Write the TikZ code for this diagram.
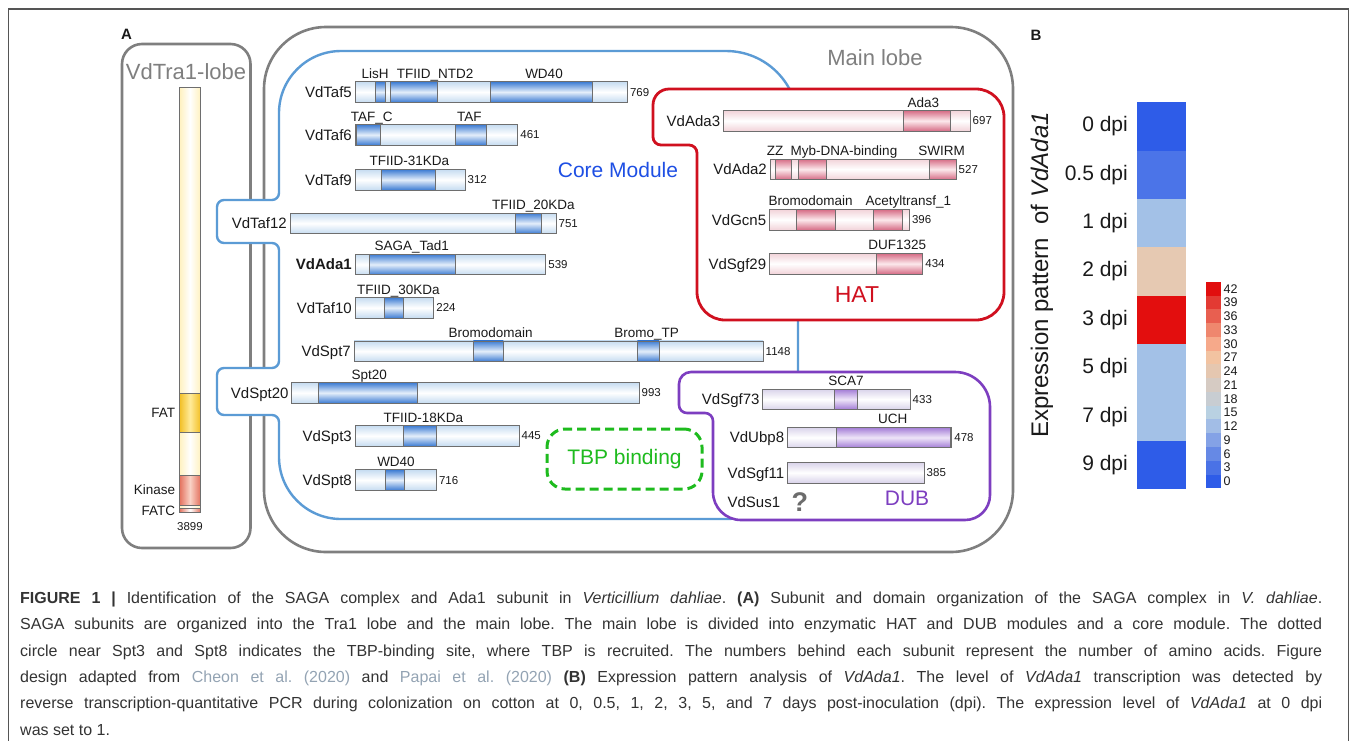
\documentclass[tikz,border=0pt]{standalone}
\usepackage{fontspec}
\setmainfont{Liberation Sans}
\usetikzlibrary{positioning}
\frenchspacing
\definecolor{ink}{HTML}{1A1A1A}
\definecolor{lobegray}{HTML}{7F7F7F}
\definecolor{corecol}{HTML}{5B9BD5}
\definecolor{coretext}{HTML}{1E4FE4}
\definecolor{hatcol}{HTML}{D0101F}
\definecolor{dubcol}{HTML}{7D3EC0}
\definecolor{tbpcol}{HTML}{1EBB1E}
\definecolor{bargray}{HTML}{6E6E6E}
\definecolor{coreL}{HTML}{C6DCF1}
\definecolor{coreD}{HTML}{3D7CD3}
\definecolor{coreM}{HTML}{E4EEFA}
\definecolor{hatL}{HTML}{F2D3D9}
\definecolor{hatD}{HTML}{D66C86}
\definecolor{hatM}{HTML}{FCE9EC}
\definecolor{dubL}{HTML}{D9D3EA}
\definecolor{dubD}{HTML}{A27BD6}
\definecolor{dubM}{HTML}{EEE5F8}
\definecolor{traL}{HTML}{FFF1BE}
\definecolor{fatD}{HTML}{F2BE22}
\definecolor{fatM}{HTML}{FFEB9A}
\definecolor{kinD}{HTML}{E3705C}
\definecolor{kinM}{HTML}{F9D2C6}
\definecolor{captext}{HTML}{333333}
\definecolor{citegray}{HTML}{93A3B3}
\definecolor{framegray}{HTML}{555555}
% heat map and colour bar
\definecolor{hmA}{HTML}{2E5CE8}
\definecolor{hmB}{HTML}{4B74E8}
\definecolor{hmC}{HTML}{A3C1E7}
\definecolor{hmD}{HTML}{E6C9B2}
\definecolor{hmE}{HTML}{E30E0E}
\definecolor{cb0}{HTML}{2E5CE8}
\definecolor{cb1}{HTML}{4A72E6}
\definecolor{cb2}{HTML}{6689E5}
\definecolor{cb3}{HTML}{84A2E6}
\definecolor{cb4}{HTML}{A2BDE6}
\definecolor{cb5}{HTML}{B9D1E2}
\definecolor{cb6}{HTML}{C8CDD2}
\definecolor{cb7}{HTML}{D6CBC3}
\definecolor{cb8}{HTML}{E5C7B0}
\definecolor{cb9}{HTML}{F2C3A1}
\definecolor{cb10}{HTML}{F6A98A}
\definecolor{cb11}{HTML}{EF876E}
\definecolor{cb12}{HTML}{E85F50}
\definecolor{cb13}{HTML}{E33A33}
\definecolor{cb14}{HTML}{E10E0E}
\tikzstyle{lobe}=[draw=lobegray, line width=2.6pt, fill=white]
\tikzstyle{lobetitle}=[font=\fontsize{22}{26}\selectfont, text=lobegray, inner sep=0pt]
\tikzstyle{coremod}=[draw=corecol, line width=2.4pt, fill=white]
\tikzstyle{hatmod}=[draw=hatcol, line width=2.8pt, fill=white]
\tikzstyle{dubmod}=[draw=dubcol, line width=2.6pt, fill=white]
\tikzstyle{modtitle}=[font=\fontsize{21}{25}\selectfont, inner sep=0pt]
\tikzstyle{tbpbox}=[draw=tbpcol, line width=3pt, dash pattern=on 9pt off 5pt, rounded corners=18pt,
  minimum width=155pt, minimum height=60pt, text=tbpcol, font=\fontsize{21}{25}\selectfont]
\tikzstyle{bar}=[draw=bargray, line width=0.9pt, minimum height=20.5pt, inner sep=0pt, outer sep=0pt, anchor=west]
\tikzstyle{corebar}=[bar, top color=coreL, bottom color=coreL, middle color=white]
\tikzstyle{coredom}=[bar, top color=coreD, bottom color=coreD, middle color=coreM]
\tikzstyle{hatbar}=[bar, top color=hatL, bottom color=hatL, middle color=white]
\tikzstyle{hatdom}=[bar, top color=hatD, bottom color=hatD, middle color=hatM]
\tikzstyle{dubbar}=[bar, top color=dubL, bottom color=dubL, middle color=white]
\tikzstyle{dubdom}=[bar, top color=dubD, bottom color=dubD, middle color=dubM]
\tikzstyle{trabar}=[draw=bargray, line width=0.9pt, minimum width=21.5pt, inner sep=0pt, outer sep=0pt, anchor=north,
  left color=traL, right color=traL, middle color=white]
\tikzstyle{fatdom}=[trabar, left color=fatD, right color=fatD, middle color=fatM]
\tikzstyle{kindom}=[trabar, left color=kinD, right color=kinD, middle color=kinM]
\tikzstyle{sublabel}=[font=\fontsize{15}{18}\selectfont, inner sep=3pt, text=ink]
\tikzstyle{domlabel}=[font=\fontsize{13.5}{16}\selectfont, inner sep=0pt, anchor=base, text=ink]
\tikzstyle{tralabel}=[font=\fontsize{13.5}{16}\selectfont, inner sep=4pt, anchor=east, text=ink]
\tikzstyle{aalabel}=[font=\fontsize{11.5}{14}\selectfont, inner sep=2.5pt, text=ink]
\tikzstyle{panel}=[font=\fontsize{15}{18}\selectfont\bfseries, inner sep=0pt, text=ink]
\tikzstyle{dpilabel}=[font=\fontsize{21}{25}\selectfont, inner sep=0pt, anchor=east, text=ink]
\tikzstyle{cblabel}=[font=\fontsize{12.5}{14}\selectfont, inner sep=0pt, anchor=west, text=ink]
\tikzstyle{capline}=[font=\fontsize{16}{18}\selectfont, inner sep=0pt, anchor=base west, text=captext]
% one subunit: style, name, text, x0, x1, y, length
\newcommand{\subunit}[7]{
  \node[#1bar, minimum width=#5pt-#4pt] (#2) at (#4,#6) {};
  \node[sublabel, anchor=base east] (#2-name) at ([yshift=-5.4pt]#2.west) {#3};
  \node[aalabel, anchor=base west] (#2-aa) at ([yshift=-4.1pt]#2.east) {#7};
  \def\rowy{#6}
}
% one domain on the last subunit: style, name, x0, x1, text, text x
\newcommand{\domain}[6]{
  \node[#1dom, minimum width=#4pt-#3pt] (#2) at (#3,\rowy) {};
  \node[domlabel] (#2-label) at (#6,\rowy-13.75) {#5};
}
\begin{document}
\begin{tikzpicture}[x=1pt, y=-1pt]
  \useasboundingbox (0,0) rectangle (1357,740);
  \draw[framegray, line width=1.2pt] (8.5,745) -- (8.5,9) -- (1348.5,9) -- (1348.5,745);
  \node[panel] (pa) at (126.5,34) {A};
  \node[panel] (pb) at (1036,35) {B};

  % lobes and modules
  \draw[lobe, rounded corners=20pt] (122,44) rectangle (250.5,548);
  \node[lobetitle] (tra1-title) at (186,72) {VdTra1-lobe};
  \draw[lobe, rounded corners=62pt] (264,27) rectangle (1013,552);
  \node[lobetitle] (main-title) at (875,58) {Main lobe};
  \draw[coremod] (600,519) [rounded corners=62pt] -- (279,519) [rounded corners=7pt] -- (279,415) -- (217,415)
    -- (217,368) -- (279,368) -- (279,243) -- (217,243) -- (217,200) -- (279,200)
    [rounded corners=62pt] -- (279,51) [rounded corners=72pt] -- (798,51) -- (798,519) -- cycle;
  \draw[hatmod] (850,320) [rounded corners=28pt] -- (1004,320) -- (1004,89) [rounded corners=16pt] -- (653,89)
    [rounded corners=8pt] -- (653,145) -- (697,145) [rounded corners=28pt] -- (697,320) -- cycle;
  \draw[dubmod] (850,520) [rounded corners=25pt] -- (990,520) [rounded corners=35pt] -- (990,372)
    [rounded corners=12pt] -- (679,372) [rounded corners=8pt] -- (679,413) -- (713,413)
    [rounded corners=28pt] -- (713,520) -- cycle;
  \node[modtitle, text=coretext] (core-title) at (618,170) {Core Module};
  \node[modtitle, text=hatcol, font=\fontsize{23}{27}\selectfont] (hat-title) at (857,295) {HAT};
  \node[modtitle, text=dubcol] (dub-title) at (907,498) {DUB};
  \node[tbpbox] (tbp) at (624.5,459) {TBP binding};

  % Tra1
  \node[trabar, minimum height=425.7pt] (tra1) at (190,87) {};
  \node[fatdom, minimum height=39pt] (fat) at (190,393) {};
  \node[kindom, minimum height=30pt] (kinase) at (190,475) {};
  \node[kindom, minimum height=3.8pt, middle color=white] (fatc) at (190,508.8) {};
  \node[tralabel] (fat-label) at (fat.west) {FAT};
  \node[tralabel] (kinase-label) at (kinase.west) {Kinase};
  \node[tralabel] (fatc-label) at (fatc.west) {FATC};
  \node[aalabel, inner sep=0pt] (tra1-aa) at (190,527) {3899};

  % core module
  \subunit{core}{taf5}{VdTaf5}{355}{627.3}{92}{769}
  \domain{core}{taf5-lish}{375.7}{385.3}{LisH}{375}
  \domain{core}{taf5-ntd}{390.7}{437.7}{TFIID\_NTD2}{435}
  \domain{core}{taf5-wd}{490}{592}{WD40}{544}
  \subunit{core}{taf6}{VdTaf6}{355}{517.7}{134.8}{461}
  \domain{core}{taf6-c}{356.7}{380.7}{TAF\_C}{371.7}
  \domain{core}{taf6-taf}{455}{486.7}{TAF}{469.3}
  \subunit{core}{taf9}{VdTaf9}{355}{465}{179.7}{312}
  \domain{core}{taf9-31}{381.7}{435}{TFIID-31KDa}{409.3}
  \subunit{core}{taf12}{VdTaf12}{290}{556}{223.3}{751}
  \domain{core}{taf12-20}{515.3}{541.7}{TFIID\_20KDa}{533.3}
  \subunit{core}{ada1}{\textbf{VdAda1}}{355}{545.7}{264.5}{539}
  \domain{core}{ada1-tad}{369.3}{455.7}{SAGA\_Tad1}{411.7}
  \subunit{core}{taf10}{VdTaf10}{355}{433.7}{307.8}{224}
  \domain{core}{taf10-30}{384.3}{403}{TFIID\_30KDa}{398.3}
  \subunit{core}{spt7}{VdSpt7}{354}{763}{351.2}{1148}
  \domain{core}{spt7-bromo}{473.3}{503.3}{Bromodomain}{490.7}
  \domain{core}{spt7-tp}{637.3}{659}{Bromo\_TP}{646.7}
  \subunit{core}{spt20}{VdSpt20}{291.7}{639}{392.8}{993}
  \domain{core}{spt20-d}{318.3}{417.3}{Spt20}{369.3}
  \subunit{core}{spt3}{VdSpt3}{355}{519}{435.8}{445}
  \domain{core}{spt3-18}{403.3}{436.7}{TFIID-18KDa}{423.3}
  \subunit{core}{spt8}{VdSpt8}{355}{436.3}{480}{716}
  \domain{core}{spt8-wd}{385.7}{404.7}{WD40}{396}

  % HAT module
  \subunit{hat}{ada3}{VdAda3}{723.3}{970}{120.8}{697}
  \domain{hat}{ada3-d}{903.3}{950.7}{Ada3}{923.3}
  \subunit{hat}{ada2}{VdAda2}{770}{956}{169.3}{527}
  \domain{hat}{ada2-zz}{775}{791.7}{ZZ}{775}
  \domain{hat}{ada2-myb}{798.3}{826.7}{Myb-DNA-binding}{844}
  \domain{hat}{ada2-swirm}{929.3}{956}{SWIRM}{941.7}
  \subunit{hat}{gcn5}{VdGcn5}{769.3}{909.3}{219.7}{396}
  \domain{hat}{gcn5-bromo}{796}{835}{Bromodomain}{810.7}
  \domain{hat}{gcn5-act}{873.3}{902.7}{Acetyltransf\_1}{908.3}
  \subunit{hat}{sgf29}{VdSgf29}{769.3}{922.7}{263.7}{434}
  \domain{hat}{sgf29-duf}{876.7}{922.7}{DUF1325}{897.3}

  % DUB module
  \subunit{dub}{sgf73}{VdSgf73}{762.7}{910}{399.3}{433}
  \domain{dub}{sgf73-sca}{834.3}{857.7}{SCA7}{846}
  \subunit{dub}{ubp8}{VdUbp8}{787.3}{951.7}{437.5}{478}
  \domain{dub}{ubp8-uch}{836}{950}{UCH}{892.7}
  \subunit{dub}{sgf11}{VdSgf11}{787.3}{924}{472.7}{385}
  \node[sublabel, anchor=base east] (sus1) at (783.3,507.1) {VdSus1};
  \node[font=\fontsize{27}{30}\selectfont\bfseries, text=lobegray!85!black, inner sep=1pt, right=7pt of sus1] (sus1-q) {?};

  % panel B
  \foreach \c [count=\i from 0] in {hmA,hmB,hmC,hmD,hmE,hmC,hmC,hmA}
    \fill[\c] (1137.3,{102.3+48.35*\i}) rectangle (1185.7,{102.3+48.35*(\i+1)});
  \foreach \t [count=\i from 0] in {0 dpi,0.5 dpi,1 dpi,2 dpi,3 dpi,5 dpi,7 dpi,9 dpi}
    \node[dpilabel] (dpi\i) at (1128,{126.5+48.35*\i}) {\t};
  \node[rotate=90, font=\fontsize{24}{28}\selectfont, inner sep=0pt, text=ink] (ytitle) at (1042,275)
    {Expression pattern\ \ of \textit{VdAda1}};
  \foreach \i in {0,...,14} {
    \fill[cb\i] (1205.7,{488.3-13.77*(\i+1)}) rectangle (1220.7,{488.3-13.77*\i});
    \pgfmathtruncatemacro\v{3*\i}
    \node[cblabel] (cb\i-label) at (1223.5,{488.3-13.77*(\i+0.5)}) {\v};
  }

  % caption
  \node[capline] (cap1) at (20,603.5) {\makebox[1302pt][s]{\textbf{FIGURE 1 |} Identification of the SAGA complex and Ada1 subunit in \textit{Verticillium dahliae}. \textbf{(A)} Subunit and domain organization of the SAGA complex in \textit{V. dahliae}.}};
  \node[capline] (cap2) at (20,629.8) {\makebox[1302pt][s]{SAGA subunits are organized into the Tra1 lobe and the main lobe. The main lobe is divided into enzymatic HAT and DUB modules and a core module. The dotted}};
  \node[capline] (cap3) at (20,656.1) {\makebox[1302pt][s]{circle near Spt3 and Spt8 indicates the TBP-binding site, where TBP is recruited. The numbers behind each subunit represent the number of amino acids. Figure}};
  \node[capline] (cap4) at (20,682.4) {\makebox[1302pt][s]{design adapted from \textcolor{citegray}{Cheon et al. (2020)} and \textcolor{citegray}{Papai et al. (2020)} \textbf{(B)} Expression pattern analysis of \textit{VdAda1}. The level of \textit{VdAda1} transcription was detected by}};
  \node[capline] (cap5) at (20,708.7) {\makebox[1302pt][s]{reverse transcription-quantitative PCR during colonization on cotton at 0, 0.5, 1, 2, 3, 5, and 7 days post-inoculation (dpi). The expression level of \textit{VdAda1} at 0 dpi}};
  \node[capline] (cap6) at (20,735) {was set to 1.};
\end{tikzpicture}
\end{document}
